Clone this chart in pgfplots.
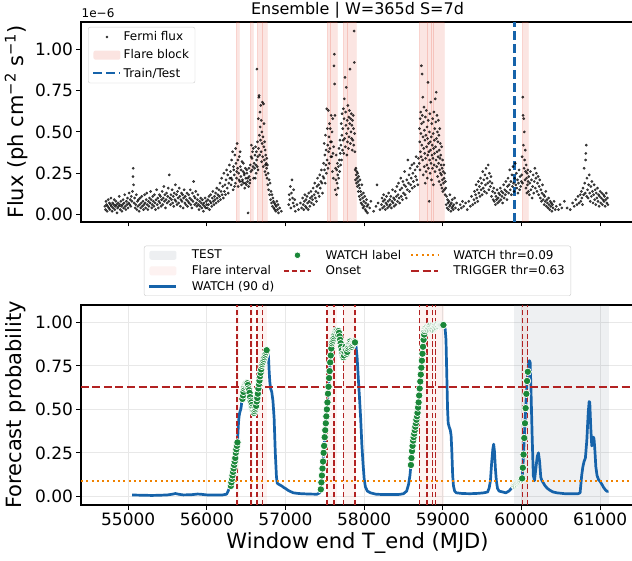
\documentclass[border=0pt]{standalone}
\usepackage{fontspec}
\setmainfont{DejaVu Sans}
\usepackage{pgfplots}
\pgfplotsset{compat=1.18}

\definecolor{wblue}{RGB}{22,99,170}
\definecolor{fb}{RGB}{178,34,34}
\definecolor{wgreen}{RGB}{26,135,56}
\definecolor{orng}{RGB}{240,130,0}
\definecolor{flarec}{RGB}{230,80,60}
\definecolor{testc}{RGB}{112,128,144}

\pgfplotsset{
  lline/.style={legend image code/.code={\draw[##1] (0pt,0pt) -- (27pt,0pt);}},
  larea/.style={legend image code/.code={\fill[##1, draw=none] (0pt,-4.5pt) rectangle (27pt,4.5pt);}},
  lmark/.style={legend image code/.code={\draw[##1] plot coordinates {(13.5pt,0pt)};}},
  flareblk/.style={forget plot, fill=flarec, fill opacity=0.15, draw=flarec, draw opacity=0.12, line width=0.4pt},
  flareint/.style={forget plot, fill=flarec, fill opacity=0.07, draw=none},
  onset/.style={forget plot, fb, line width=1.5pt, dash pattern=on 5.5pt off 2.4pt},
  common/.style={
    scale only axis, width=553pt, height=200pt,
    xmin=54400, xmax=61430,
    xtick={55000,56000,57000,58000,59000,60000,61000},
    ytick={0,0.25,0.5,0.75,1},
    tick align=outside, tick pos=left, major tick length=4.5pt,
    every tick/.style={black, line width=1pt},
    axis line style={line width=1.1pt},
    ticklabel style={font=\fontsize{17}{17}\selectfont},
    /pgf/number format/assume math mode=true,
    scaled ticks=false,
    xticklabel style={/pgf/number format/1000 sep={}},
    yticklabel style={/pgf/number format/fixed, /pgf/number format/fixed zerofill, /pgf/number format/precision=2},
    label style={font=\fontsize{21}{21}\selectfont},
    ylabel style={at={(axis description cs:-0.1175,0.5)}, anchor=center},
    legend cell align=left,
  },
}

\begin{document}
\begin{tikzpicture}
\path[use as bounding box] (0pt,0pt) rectangle (632pt,560pt);

% ---------------- top panel: flux ----------------
\begin{axis}[common, at={(81pt,338pt)}, anchor=south west,
  ymin=-0.045, ymax=1.165,
  xticklabel=\empty,
  ylabel={Flux (ph cm\textsuperscript{−2} s\textsuperscript{−1})},
  legend style={at={(axis description cs:0.0127,0.975)}, anchor=north west,
    draw=black!20, rounded corners=2pt, font=\fontsize{12}{14}\selectfont,
    inner xsep=4pt, inner ysep=2.5pt, row sep=3.5pt,
    /tikz/every even column/.append style={column sep=7pt}},
]
% flare blocks
\addplot[flareblk] coordinates {(56372,-0.045)(56372,1.165)(56405,1.165)(56405,-0.045)} -- cycle;
\addplot[flareblk] coordinates {(56553,-0.045)(56553,1.165)(56584,1.165)(56584,-0.045)} -- cycle;
\addplot[flareblk] coordinates {(56635,-0.045)(56635,1.165)(56700,1.165)(56700,-0.045)} -- cycle;
\addplot[flareblk] coordinates {(56700,-0.045)(56700,1.165)(56770,1.165)(56770,-0.045)} -- cycle;
\addplot[flareblk] coordinates {(57525,-0.045)(57525,1.165)(57565,1.165)(57565,-0.045)} -- cycle;
\addplot[flareblk] coordinates {(57565,-0.045)(57565,1.165)(57660,1.165)(57660,-0.045)} -- cycle;
\addplot[flareblk] coordinates {(57729,-0.045)(57729,1.165)(57785,1.165)(57785,-0.045)} -- cycle;
\addplot[flareblk] coordinates {(57785,-0.045)(57785,1.165)(57894,1.165)(57894,-0.045)} -- cycle;
\addplot[flareblk] coordinates {(58700,-0.045)(58700,1.165)(58798,1.165)(58798,-0.045)} -- cycle;
\addplot[flareblk] coordinates {(58798,-0.045)(58798,1.165)(58852,1.165)(58852,-0.045)} -- cycle;
\addplot[flareblk] coordinates {(58852,-0.045)(58852,1.165)(58882,1.165)(58882,-0.045)} -- cycle;
\addplot[flareblk] coordinates {(58882,-0.045)(58882,1.165)(59018,1.165)(59018,-0.045)} -- cycle;
\addplot[flareblk] coordinates {(60010,-0.045)(60010,1.165)(60087,1.165)(60087,-0.045)} -- cycle;

% Fermi flux (units of 1e-6)
\addplot[forget plot, only marks, mark=*, mark size=1.2pt, black, opacity=0.7] coordinates {
(54704,0.05)(54711,0.03)(54718,0.08)(54725,0.06)(54732,0.02)(54739,0.05)(54746,0.09)(54753,0.04)(54760,0.07)(54767,0.03)
(54774,0.06)(54781,0.10)(54788,0.05)(54795,0.02)(54802,0.07)(54809,0.04)(54816,0.06)(54823,0.09)(54830,0.03)(54837,0.05)
(54844,0.08)(54851,0.06)(54858,0.01)(54865,0.04)(54872,0.07)(54879,0.05)(54886,0.11)(54893,0.06)(54900,0.03)(54907,0.08)
(54914,0.05)(54921,0.02)(54928,0.06)(54935,0.09)(54942,0.04)(54949,0.07)(54956,0.12)(54963,0.05)(54970,0.03)(54977,0.08)
(54984,0.06)(54991,0.10)(54998,0.04)(55005,0.07)(55012,0.13)(55019,0.06)(55026,0.09)(55033,0.05)(55040,0.11)(55047,0.08)
(55054,0.14)(55061,0.23)(55064,0.28)(55068,0.18)(55075,0.07)(55082,0.10)(55089,0.04)(55096,0.06)(55103,0.12)(55110,0.03)
(55117,0.08)(55124,0.05)(55131,0.09)(55138,0.02)(55145,0.06)(55152,0.10)(55159,0.04)(55166,0.07)(55173,0.11)(55180,0.05)
(55187,0.08)(55194,0.03)(55201,0.06)(55208,0.12)(55215,0.07)(55222,0.04)(55229,0.09)(55236,0.13)(55243,0.06)(55250,0.03)
(55257,0.08)(55264,0.05)(55271,0.10)(55278,0.07)(55285,0.14)(55292,0.09)(55299,0.04)(55306,0.06)(55313,0.11)(55320,0.08)
(55327,0.05)(55334,0.12)(55341,0.07)(55348,0.03)(55355,0.09)(55362,0.15)(55369,0.06)(55376,0.10)(55383,0.04)(55390,0.08)
(55397,0.12)(55404,0.07)(55411,0.11)(55418,0.05)(55425,0.09)(55432,0.14)(55439,0.06)(55446,0.10)(55453,0.17)(55460,0.08)
(55467,0.12)(55474,0.04)(55481,0.09)(55488,0.13)(55495,0.07)(55502,0.11)(55509,0.16)(55516,0.08)(55523,0.24)(55530,0.10)
(55537,0.06)(55544,0.12)(55551,0.09)(55558,0.15)(55565,0.07)(55572,0.11)(55579,0.05)(55586,0.13)(55593,0.09)(55600,0.18)
(55607,0.08)(55614,0.12)(55621,0.06)(55628,0.14)(55635,0.10)(55642,0.07)(55649,0.16)(55656,0.11)(55663,0.05)(55670,0.09)
(55677,0.13)(55684,0.08)(55691,0.12)(55698,0.04)(55705,0.10)(55712,0.15)(55719,0.07)(55726,0.11)(55733,0.06)(55740,0.09)
(55747,0.13)(55754,0.05)(55761,0.08)(55768,0.12)(55775,0.07)(55782,0.10)(55789,0.15)(55796,0.06)(55803,0.09)(55810,0.04)
(55817,0.13)(55824,0.08)(55831,0.20)(55838,0.11)(55845,0.06)(55852,0.10)(55859,0.14)(55866,0.07)(55873,0.05)(55880,0.09)
(55887,0.12)(55894,0.06)(55901,0.03)(55908,0.08)(55915,0.05)(55922,0.10)(55929,0.07)(55936,0.04)(55943,0.09)(55950,0.06)
(55957,0.02)(55964,0.07)(55971,0.05)(55978,0.10)(55985,0.04)(55992,0.08)(55999,0.06)(56006,0.04)(56013,0.09)(56020,0.06)
(56027,0.11)(56034,0.03)(56041,0.08)(56048,0.12)(56055,0.07)(56062,0.05)(56069,0.10)(56076,0.14)(56083,0.08)(56090,0.06)
(56097,0.11)(56104,0.09)(56111,0.13)(56118,0.07)(56125,0.16)(56132,0.10)(56139,0.12)(56146,0.08)(56153,0.15)(56160,0.11)
(56167,0.19)(56174,0.09)(56181,0.14)(56188,0.22)(56195,0.12)(56202,0.17)(56209,0.10)(56216,0.25)(56223,0.14)(56230,0.18)
(56237,0.12)(56244,0.21)(56251,0.27)(56258,0.16)(56265,0.24)(56272,0.13)(56279,0.19)(56286,0.30)(56293,0.22)
(56300,0.26)(56307,0.18)(56314,0.33)(56321,0.21)(56328,0.38)(56335,0.15)(56342,0.27)(56349,0.24)(56356,0.36)(56363,0.19)
(56370,0.31)(56377,0.22)(56384,0.43)(56391,0.28)(56398,0.17)(56405,0.25)(56412,0.35)(56419,0.20)(56426,0.29)(56433,0.23)
(56440,0.18)(56447,0.32)(56454,0.21)(56461,0.26)(56468,0.19)(56475,0.24)(56482,0.16)(56489,0.28)(56496,0.22)(56503,0.18)
(56510,0.25)(56517,0.20)(56524,0.01)(56531,0.17)(56538,0.23)(56545,0.19)(56552,0.30)(56559,0.26)(56566,0.42)(56573,0.34)
(56580,0.38)(56587,0.29)(56594,0.22)(56601,0.31)(56310,0.22)(56338,0.29)(56352,0.17)(56366,0.40)(56380,0.26)(56394,0.33)
(56408,0.21)(56422,0.38)(56436,0.27)(56450,0.20)(56464,0.31)(56478,0.25)(56492,0.19)(56506,0.27)(56520,0.22)(56534,0.28)
(56548,0.21)(56562,0.35)(56576,0.27)(56590,0.40)
(56608,0.28)(56612,0.36)(56615,0.22)(56619,0.41)(56622,0.30)(56626,0.25)(56629,0.38)(56633,0.33)(56636,0.88)(56640,0.29)
(56643,0.44)(56647,0.35)(56650,0.27)(56654,0.58)(56657,0.40)(56661,0.71)(56664,0.72)(56668,0.48)(56671,0.36)(56675,0.62)
(56678,0.53)(56682,0.45)(56685,0.66)(56689,0.38)(56692,0.57)(56696,0.32)(56699,0.50)(56703,0.43)(56706,0.68)(56710,0.35)
(56713,0.47)(56717,0.29)(56720,0.67)(56724,0.41)(56727,0.55)(56731,0.33)(56734,0.44)(56738,0.26)(56741,0.39)(56745,0.30)
(56748,0.36)(56752,0.24)(56755,0.31)(56759,0.28)(56762,0.34)(56766,0.22)(56770,0.30)(56775,0.18)(56780,0.25)(56786,0.15)
(56792,0.21)(56798,0.12)(56804,0.19)(56810,0.09)(56816,0.14)(56822,0.07)(56828,0.12)(56834,0.05)(56840,0.10)(56846,0.08)
(56852,0.04)(56858,0.07)(56864,0.03)(56870,0.06)(56876,0.02)(56882,0.05)
(56890,0.08)(56897,0.03)(56904,0.06)(56911,0.01)(56925,0.04)(56946,0.02)(57040,0.06)(57047,0.12)(57054,0.09)(57061,0.17)
(57068,0.04)(57075,0.13)(57082,0.21)(57089,0.10)(57096,0.07)(57103,0.15)(57110,0.05)(57117,0.09)(57124,0.02)(57145,0.06)
(57166,0.03)(57190,0.07)(57204,0.04)(57218,0.10)(57225,0.06)(57232,0.03)(57239,0.08)(57246,0.12)(57253,0.05)(57260,0.09)
(57267,0.04)(57274,0.11)(57281,0.07)(57288,0.03)(57295,0.13)(57302,0.08)(57309,0.05)(57316,0.10)(57323,0.14)(57330,0.07)
(57337,0.11)(57344,0.09)(57351,0.16)(57358,0.06)(57365,0.12)(57372,0.19)(57379,0.10)(57386,0.14)(57393,0.08)(57400,0.17)
(57407,0.22)(57414,0.13)(57421,0.18)(57428,0.11)(57435,0.24)(57442,0.16)(57449,0.20)(57456,0.27)(57463,0.19)(57470,0.13)
(57477,0.23)
(57484,0.31)(57488,0.22)(57492,0.43)(57496,0.27)(57500,0.36)(57504,0.19)(57508,0.48)(57512,0.30)(57516,0.39)(57520,0.25)
(57524,0.64)(57528,0.33)(57532,0.52)(57536,0.42)(57540,0.28)(57544,0.63)(57548,0.38)(57552,0.47)(57556,0.31)(57560,0.55)
(57564,0.40)(57568,0.52)(57572,0.44)(57576,0.35)(57580,0.60)(57584,0.44)(57588,0.35)(57592,0.50)(57596,0.26)(57600,0.58)
(57604,0.37)(57608,0.22)(57612,0.41)(57616,0.90)(57620,0.97)(57624,0.79)(57628,0.60)(57632,0.15)(57636,0.28)(57640,0.21)
(57644,0.36)(57648,0.12)(57652,0.27)(57656,0.19)(57660,0.31)(57664,0.24)(57668,0.16)(57672,0.29)(57676,0.22)(57680,0.40)
(57684,0.33)(57688,0.26)(57692,0.45)(57696,0.37)(57700,0.30)
(57704,0.42)(57708,0.55)(57712,0.33)(57716,0.48)(57720,0.61)(57724,0.39)(57728,0.52)(57732,0.45)(57736,0.64)(57740,0.37)
(57744,0.58)(57748,0.70)(57752,0.46)(57756,0.83)(57760,0.41)(57764,0.62)(57768,0.54)(57772,0.77)(57776,0.49)(57780,0.36)
(57784,0.57)(57788,0.44)(57792,0.66)(57796,0.52)(57800,0.40)(57804,0.59)(57808,0.47)(57812,0.63)(57816,0.55)(57820,0.88)
(57824,0.43)(57828,0.58)(57832,0.50)(57836,0.61)(57840,0.46)(57844,0.54)(57848,0.39)(57852,0.57)(57856,0.45)(57860,0.60)
(57864,0.52)(57868,0.42)(57872,1.11)(57874,0.92)(57878,0.49)(57882,0.38)(57886,0.27)(57890,0.21)(57894,0.28)(57898,0.24)
(57902,0.19)(57906,0.26)(57910,0.22)(57914,0.17)(57918,0.25)(57922,0.20)(57926,0.14)(57930,0.23)(57934,0.18)(57938,0.11)
(57942,0.16)(57946,0.21)(57950,0.09)(57955,0.14)(57960,0.07)(57965,0.12)(57970,0.18)(57975,0.06)(57980,0.10)(57985,0.04)
(57990,0.13)(57995,0.08)(58000,0.05)(58006,0.11)(58012,0.03)(58018,0.07)(58024,0.02)(58030,0.09)(58036,0.05)(58042,0.01)
(58048,0.06)
(58070,0.04)(58085,0.08)(58120,0.02)(58150,0.05)(58163,0.18)(58178,0.07)(58200,0.03)(58220,0.06)(58227,0.10)(58234,0.04)
(58241,0.08)(58248,0.12)(58255,0.05)(58262,0.09)(58269,0.03)(58276,0.07)(58283,0.11)(58290,0.06)(58297,0.04)(58304,0.08)
(58311,0.13)(58318,0.05)(58325,0.09)(58332,0.06)(58339,0.11)(58346,0.04)(58353,0.08)(58360,0.15)(58367,0.07)(58374,0.10)
(58381,0.05)(58388,0.09)(58395,0.14)(58402,0.06)(58409,0.11)(58416,0.17)(58423,0.08)(58430,0.12)(58437,0.19)(58444,0.10)
(58451,0.07)(58458,0.15)(58465,0.22)(58472,0.11)(58479,0.16)(58486,0.09)(58493,0.20)(58500,0.13)(58507,0.18)(58514,0.26)
(58521,0.12)(58528,0.17)(58535,0.10)(58542,0.21)(58549,0.15)(58556,0.33)(58563,0.19)(58570,0.24)(58577,0.14)(58584,0.28)
(58591,0.18)(58598,0.22)(58605,0.30)(58612,0.16)(58619,0.25)(58626,0.20)(58633,0.31)(58640,0.17)(58647,0.27)(58654,0.23)
(58661,0.35)(58668,0.21)(58675,0.29)(58682,0.18)(58689,0.34)
(58700,0.31)(58703,0.52)(58706,0.44)(58709,0.27)(58712,0.58)(58715,0.38)(58718,0.62)(58721,0.49)(58724,0.35)(58727,0.90)
(58730,0.55)(58733,0.42)(58736,0.85)(58739,0.60)(58742,0.33)(58745,0.71)(58748,0.47)(58751,0.24)(58754,0.56)(58757,0.40)
(58760,0.65)(58763,0.29)(58766,0.51)(58769,0.37)(58772,0.45)(58775,0.19)(58778,0.59)(58781,0.34)(58784,0.48)(58787,0.26)
(58790,0.63)(58793,0.41)(58796,0.30)(58799,0.53)(58802,0.22)(58805,0.46)(58808,0.36)(58811,0.80)(58814,0.57)(58817,0.28)
(58820,0.43)(58823,0.38)(58826,0.08)(58829,0.50)(58832,0.33)(58835,0.61)(58838,0.25)(58841,0.44)(58844,0.39)(58847,0.68)
(58850,0.31)(58853,0.47)(58856,0.21)(58859,0.55)(58862,0.36)(58865,0.42)(58868,0.28)(58871,0.58)(58874,0.34)(58877,0.49)
(58880,0.18)(58883,0.40)(58886,0.62)(58889,0.30)(58892,0.45)(58895,0.37)(58898,0.52)(58901,0.26)(58904,0.70)(58907,0.41)
(58910,0.56)(58913,0.33)(58916,0.74)(58919,0.46)(58922,0.29)(58925,0.60)(58928,0.38)(58931,0.50)(58934,0.23)(58937,0.44)
(58940,0.35)(58943,0.57)(58946,0.31)(58949,0.48)(58952,0.20)(58955,0.39)(58958,0.27)(58961,0.52)(58964,0.34)(58967,0.43)
(58970,0.25)(58973,0.36)(58976,0.18)(58979,0.30)(58982,0.24)(58985,0.41)(58988,0.16)(58991,0.28)(58994,0.21)(58997,0.33)
(59000,0.14)(59004,0.26)(59008,0.19)(59012,0.30)(59016,0.22)(59020,0.15)(59024,0.25)(59028,0.12)(59032,0.20)(59036,0.16)
(59042,0.06)(59048,0.11)(59054,0.04)(59060,0.09)(59066,0.07)(59072,0.03)(59078,0.08)(59084,0.05)(59090,0.12)(59096,0.06)
(59102,0.02)(59108,0.07)(59114,0.04)(59120,0.09)(59126,0.05)(59132,0.03)(59140,0.06)(59150,0.10)(59160,0.04)(59175,0.07)
(59200,0.03)(59220,0.06)(59235,0.04)(59250,0.08)(59265,0.05)(59290,0.07)(59310,0.03)(59330,0.08)(59350,0.05)(59365,0.11)
(59380,0.06)(59395,0.09)
(59402,0.14)(59409,0.07)(59416,0.12)(59423,0.18)(59430,0.10)(59437,0.15)(59444,0.08)(59451,0.20)(59458,0.13)(59465,0.17)
(59472,0.11)(59479,0.22)(59486,0.15)(59493,0.19)(59500,0.12)(59507,0.26)(59514,0.16)(59521,0.21)(59528,0.14)(59535,0.24)
(59542,0.18)(59549,0.28)(59556,0.13)(59563,0.22)(59570,0.19)(59577,0.30)(59584,0.15)(59591,0.25)(59598,0.20)(59605,0.17)
(59612,0.23)(59619,0.11)(59626,0.19)(59633,0.14)(59640,0.09)(59647,0.16)(59654,0.08)(59661,0.13)(59668,0.06)(59675,0.11)
(59682,0.09)(59689,0.15)(59696,0.07)
(59703,0.10)(59710,0.13)(59717,0.08)(59724,0.12)(59731,0.16)(59738,0.09)(59745,0.14)(59752,0.11)(59759,0.07)(59766,0.13)
(59773,0.18)(59780,0.10)(59787,0.15)(59794,0.12)(59801,0.20)(59808,0.14)(59815,0.09)(59822,0.17)(59829,0.22)(59836,0.13)
(59843,0.18)(59850,0.27)(59857,0.15)(59864,0.20)(59871,0.12)(59878,0.24)(59885,0.17)(59892,0.29)(59899,0.19)(59906,0.14)
(59913,0.22)(59920,0.31)(59927,0.18)(59934,0.25)(59941,0.16)(59948,0.21)(59955,0.13)(59962,0.19)(59969,0.27)(59976,0.15)
(59983,0.23)(59990,0.17)(59997,0.20)
(60004,0.24)(60008,0.35)(60012,0.19)(60016,0.71)(60020,0.60)(60024,0.42)(60028,0.58)(60032,0.28)(60036,0.50)(60040,0.33)
(60044,0.21)(60048,0.39)(60052,0.26)(60056,0.16)(60060,0.30)(60064,0.22)(60068,0.13)(60072,0.25)(60076,0.18)(60080,0.27)
(60084,0.20)(60088,0.14)
(60092,0.23)(60099,0.12)(60106,0.19)(60113,0.26)(60120,0.15)(60127,0.21)(60134,0.10)(60141,0.17)(60148,0.24)(60155,0.13)
(60162,0.20)(60169,0.28)(60176,0.16)(60183,0.22)(60190,0.25)(60197,0.14)(60204,0.19)(60211,0.23)(60218,0.12)(60225,0.17)
(60232,0.21)(60239,0.10)(60246,0.15)(60253,0.08)(60260,0.13)(60267,0.18)(60274,0.09)(60281,0.12)(60288,0.06)(60295,0.11)
(60302,0.08)(60309,0.14)(60316,0.05)(60323,0.09)(60330,0.07)(60337,0.04)(60344,0.10)(60351,0.06)(60358,0.03)(60365,0.08)
(60372,0.05)(60379,0.07)(60386,0.02)(60393,0.06)(60400,0.04)(60414,0.08)(60428,0.03)(60442,0.05)
(60470,0.03)(60490,0.06)(60512,0.04)(60545,0.08)(60580,0.04)(60620,0.03)(60650,0.07)(60670,0.05)(60690,0.09)(60705,0.06)
(60719,0.11)(60733,0.07)(60747,0.12)
(60754,0.08)(60761,0.14)(60768,0.10)(60775,0.06)(60782,0.16)(60789,0.12)(60796,0.28)(60803,0.19)(60810,0.13)(60815,0.33)
(60818,0.37)(60824,0.42)(60828,0.11)(60832,0.22)(60839,0.15)(60846,0.10)(60853,0.18)(60860,0.24)(60867,0.13)(60874,0.08)
(60881,0.17)(60888,0.11)(60895,0.20)(60902,0.14)(60909,0.07)(60916,0.12)(60923,0.18)(60930,0.09)(60937,0.15)(60944,0.06)
(60951,0.13)(60958,0.10)(60965,0.16)(60972,0.08)(60979,0.12)(60986,0.05)(60993,0.11)(61000,0.14)(61007,0.07)(61014,0.10)
(61021,0.13)(61028,0.06)(61035,0.09)(61042,0.12)(61049,0.08)(61056,0.11)(61063,0.05)(61070,0.09)(61077,0.13)(61084,0.07)
(61091,0.10)(61098,0.06)
};
% train/test split
\addplot[forget plot, wblue, line width=2.5pt, dash pattern=on 9pt off 4pt] coordinates {(59910,-0.045)(59910,1.165)};

\addlegendimage{lmark, only marks, mark=*, mark size=1pt, black!80}
\addlegendentry{Fermi flux}
\addlegendimage{larea, fill=flarec, fill opacity=0.15}
\addlegendentry{Flare block}
\addlegendimage{lline, wblue, line width=2.5pt, dash pattern=on 9pt off 4pt}
\addlegendentry{Train/Test}
\end{axis}

% title and offset text of the top panel
\node[anchor=base, inner sep=0pt, font=\fontsize{16}{16}\selectfont] at (357.5pt,545pt) {Ensemble | W=365d S=7d};
\node[anchor=base west, inner sep=0pt, font=\fontsize{12}{12}\selectfont] at (81.5pt,542pt) {1e−6};

% ---------------- bottom panel: forecast ----------------
\begin{axis}[common, at={(81pt,55pt)}, anchor=south west,
  ymin=-0.05, ymax=1.1,
  grid=major, major grid style={black!9, line width=0.8pt},
  xlabel={Window end T\_end (MJD)},
  xlabel style={at={(axis description cs:0.5,0)}, anchor=base, yshift=-43.3pt},
  ylabel={Forecast probability},
  legend columns=3,
  legend style={at={(axis description cs:0.5,1.045)}, anchor=south,
    draw=black!20, rounded corners=2pt, font=\fontsize{12}{14}\selectfont,
    inner xsep=4pt, inner ysep=2pt, row sep=1pt,
    /tikz/every even column/.append style={column sep=7pt},
    /tikz/every odd column/.append style={column sep=12pt}},
]
% test period
\addplot[forget plot, fill=testc, fill opacity=0.12, draw=none] coordinates {(59910,-0.05)(59910,1.1)(61110,1.1)(61110,-0.05)} -- cycle;
% flare intervals
\addplot[flareint] coordinates {(56372,-0.05)(56372,1.1)(56405,1.1)(56405,-0.05)} -- cycle;
\addplot[flareint] coordinates {(56553,-0.05)(56553,1.1)(56584,1.1)(56584,-0.05)} -- cycle;
\addplot[flareint] coordinates {(56635,-0.05)(56635,1.1)(56770,1.1)(56770,-0.05)} -- cycle;
\addplot[flareint] coordinates {(57525,-0.05)(57525,1.1)(57660,1.1)(57660,-0.05)} -- cycle;
\addplot[flareint] coordinates {(57729,-0.05)(57729,1.1)(57894,1.1)(57894,-0.05)} -- cycle;
\addplot[flareint] coordinates {(58700,-0.05)(58700,1.1)(59018,1.1)(59018,-0.05)} -- cycle;
\addplot[flareint] coordinates {(60010,-0.05)(60010,1.1)(60087,1.1)(60087,-0.05)} -- cycle;

% WATCH probability (90 d)
\addplot[forget plot, wblue, line width=2.7pt, line join=round] coordinates {
(55050,0.008)(55100,0.007)(55200,0.006)(55300,0.005)(55400,0.006)(55500,0.008)(55560,0.012)(55600,0.016)(55640,0.012)
(55700,0.008)(55800,0.009)(55880,0.013)(55920,0.012)(56000,0.008)(56100,0.007)(56200,0.008)(56250,0.012)(56270,0.030)
(56290,0.05)
(56305,0.06)(56312,0.08)(56319,0.10)(56326,0.12)(56333,0.14)(56340,0.16)(56347,0.18)(56354,0.20)(56361,0.22)(56368,0.25)
(56375,0.27)(56382,0.29)(56389,0.31)
(56396,0.37)(56403,0.43)(56410,0.46)(56417,0.48)(56424,0.49)(56431,0.50)(56438,0.52)(56445,0.55)
(56452,0.56)(56459,0.58)(56466,0.60)(56473,0.62)(56480,0.63)(56487,0.64)(56494,0.645)(56501,0.65)(56508,0.65)(56515,0.65)
(56522,0.64)(56529,0.62)(56536,0.61)(56543,0.595)(56550,0.57)(56557,0.55)(56564,0.54)(56571,0.525)(56578,0.51)(56585,0.50)
(56592,0.49)(56599,0.48)(56606,0.49)(56613,0.50)(56620,0.51)(56627,0.52)(56634,0.545)(56641,0.565)(56648,0.59)(56655,0.62)
(56662,0.645)(56669,0.665)(56676,0.69)(56683,0.71)(56690,0.73)(56697,0.75)(56704,0.76)(56711,0.77)(56718,0.78)(56725,0.79)
(56732,0.80)(56739,0.81)(56746,0.82)(56753,0.83)(56760,0.84)
(56768,0.835)(56776,0.83)(56784,0.80)(56792,0.72)(56800,0.66)(56810,0.62)(56825,0.60)(56840,0.55)(56855,0.45)(56870,0.25)
(56885,0.11)(56895,0.075)(56910,0.07)(56930,0.065)(56950,0.06)(56980,0.05)(57000,0.045)(57030,0.035)(57060,0.028)(57100,0.02)
(57150,0.017)(57200,0.015)(57300,0.013)(57400,0.012)(57435,0.02)
(57449,0.04)(57456,0.08)(57463,0.12)(57470,0.16)(57477,0.20)(57484,0.25)(57491,0.29)(57498,0.34)(57505,0.38)(57512,0.42)
(57519,0.46)(57526,0.50)(57533,0.54)(57540,0.59)(57547,0.63)(57554,0.68)(57561,0.72)(57568,0.77)(57575,0.81)(57582,0.85)
(57589,0.88)(57596,0.89)(57603,0.90)(57610,0.91)(57617,0.92)(57624,0.93)(57631,0.94)(57638,0.95)(57645,0.955)(57652,0.95)
(57659,0.94)(57666,0.93)(57673,0.95)(57680,0.94)(57687,0.92)(57694,0.90)(57701,0.88)(57708,0.86)(57715,0.84)(57722,0.82)
(57729,0.81)(57736,0.80)(57743,0.81)(57750,0.83)(57757,0.85)(57764,0.86)(57771,0.84)(57778,0.82)(57785,0.83)(57792,0.85)
(57799,0.86)(57806,0.87)(57813,0.88)(57820,0.89)(57827,0.88)(57834,0.87)(57841,0.86)(57848,0.87)(57855,0.88)(57862,0.89)
(57869,0.89)(57876,0.885)(57883,0.885)
(57895,0.87)(57910,0.80)(57925,0.68)(57940,0.57)(57955,0.45)(57970,0.30)(57985,0.19)(58000,0.10)(58015,0.055)(58040,0.03)
(58080,0.02)(58150,0.012)(58250,0.01)(58350,0.01)(58450,0.011)(58500,0.015)(58540,0.03)(58565,0.07)(58582,0.12)
(58594,0.18)(58601,0.22)(58608,0.26)(58615,0.29)(58622,0.32)(58629,0.34)(58636,0.36)(58643,0.38)(58650,0.40)(58657,0.42)
(58664,0.44)(58671,0.46)(58678,0.48)(58685,0.51)(58692,0.54)(58699,0.58)(58706,0.62)(58713,0.66)(58720,0.70)(58727,0.74)
(58734,0.78)(58741,0.82)(58748,0.86)(58755,0.90)(58762,0.93)(58769,0.95)(58776,0.96)(58783,0.965)(58790,0.97)(58797,0.965)
(58804,0.96)(58811,0.965)(58818,0.97)(58825,0.975)(58832,0.98)(58839,0.98)(58846,0.975)(58853,0.97)(58860,0.965)(58867,0.96)
(58874,0.965)(58881,0.97)(58888,0.975)(58895,0.98)(58902,0.98)(58909,0.975)(58916,0.98)(58923,0.985)(58930,0.985)(58937,0.98)
(58944,0.98)(58951,0.985)(58958,0.985)(58965,0.985)(58972,0.985)(58979,0.985)(58986,0.985)(58993,0.985)(59000,0.985)(59007,0.985)
(59020,0.98)(59030,0.96)(59040,0.90)(59050,0.70)(59060,0.50)(59068,0.42)(59080,0.40)(59095,0.38)(59105,0.35)(59115,0.25)
(59125,0.12)(59135,0.06)(59150,0.03)(59170,0.02)(59250,0.016)(59350,0.015)(59450,0.017)(59520,0.02)(59570,0.025)(59590,0.05)
(59605,0.09)(59620,0.19)(59635,0.27)(59646,0.30)(59656,0.26)(59668,0.16)(59680,0.09)(59695,0.045)(59715,0.03)(59760,0.025)
(59800,0.02)(59840,0.03)(59870,0.045)(59900,0.06)
(59910,0.062)(59917,0.066)(59924,0.07)(59931,0.074)(59938,0.078)(59945,0.08)(59952,0.082)(59959,0.085)(59966,0.087)(59973,0.089)
(59980,0.09)(59987,0.093)(59994,0.095)(60001,0.098)(60008,0.103)(60017,0.164)(60026,0.24)(60035,0.335)(60044,0.42)(60053,0.507)
(60062,0.589)(60071,0.663)(60080,0.716)
(60090,0.76)(60100,0.78)(60110,0.77)(60120,0.62)(60135,0.35)(60150,0.12)(60165,0.09)(60180,0.15)(60200,0.23)(60215,0.25)
(60230,0.20)(60245,0.11)(60260,0.09)(60280,0.075)(60300,0.06)(60330,0.045)(60360,0.035)(60400,0.025)(60450,0.02)(60550,0.015)
(60650,0.015)(60720,0.015)(60745,0.02)(60765,0.12)(60780,0.17)(60795,0.20)(60812,0.22)(60830,0.32)(60848,0.48)(60860,0.545)
(60868,0.54)(60880,0.40)(60893,0.29)(60905,0.30)(60915,0.34)(60922,0.33)(60932,0.27)(60945,0.17)(60960,0.12)(60980,0.095)
(61000,0.085)(61020,0.07)(61045,0.05)(61070,0.035)(61090,0.028)(61105,0.03)
};

% onsets
\addplot[onset] coordinates {(56380,-0.05)(56380,1.1)};
\addplot[onset] coordinates {(56562,-0.05)(56562,1.1)};
\addplot[onset] coordinates {(56635,-0.05)(56635,1.1)};
\addplot[onset] coordinates {(56708,-0.05)(56708,1.1)};
\addplot[onset] coordinates {(57525,-0.05)(57525,1.1)};
\addplot[onset] coordinates {(57614,-0.05)(57614,1.1)};
\addplot[onset] coordinates {(57737,-0.05)(57737,1.1)};
\addplot[onset] coordinates {(57882,-0.05)(57882,1.1)};
\addplot[onset] coordinates {(58704,-0.05)(58704,1.1)};
\addplot[onset] coordinates {(58798,-0.05)(58798,1.1)};
\addplot[onset] coordinates {(58869,-0.05)(58869,1.1)};
\addplot[onset] coordinates {(58905,-0.05)(58905,1.1)};
\addplot[onset] coordinates {(60012,-0.05)(60012,1.1)};
\addplot[onset] coordinates {(60073,-0.05)(60073,1.1)};

% thresholds
\addplot[forget plot, orng, line width=2pt, dash pattern=on 2pt off 3.3pt] coordinates {(54400,0.09)(61430,0.09)};
\addplot[forget plot, fb, line width=2.2pt, dash pattern=on 8pt off 3.5pt] coordinates {(54400,0.63)(61430,0.63)};

% WATCH label markers
\addplot[forget plot, only marks, mark=*, mark size=3.7pt, mark options={fill=wgreen, draw=white, line width=0.7pt}] coordinates {
(56305,0.06)(56312,0.08)(56319,0.10)(56326,0.12)(56333,0.14)(56340,0.16)(56347,0.18)(56354,0.20)(56361,0.22)(56368,0.25)
(56375,0.27)(56382,0.29)(56389,0.31)
(56452,0.56)(56459,0.58)(56466,0.60)(56473,0.62)(56480,0.63)(56487,0.64)(56494,0.645)(56501,0.65)(56508,0.65)(56515,0.65)
(56522,0.64)(56529,0.62)(56536,0.61)(56543,0.595)(56550,0.57)(56557,0.55)(56564,0.54)(56571,0.525)(56578,0.51)(56585,0.50)
(56592,0.49)(56599,0.48)(56606,0.49)(56613,0.50)(56620,0.51)(56627,0.52)(56634,0.545)(56641,0.565)(56648,0.59)(56655,0.62)
(56662,0.645)(56669,0.665)(56676,0.69)(56683,0.71)(56690,0.73)(56697,0.75)(56704,0.76)(56711,0.77)(56718,0.78)(56725,0.79)
(56732,0.80)(56739,0.81)(56746,0.82)(56753,0.83)(56760,0.84)
(57449,0.04)(57456,0.08)(57463,0.12)(57470,0.16)(57477,0.20)(57484,0.25)(57491,0.29)(57498,0.34)(57505,0.38)(57512,0.42)
(57519,0.46)(57526,0.50)(57533,0.54)(57540,0.59)(57547,0.63)(57554,0.68)(57561,0.72)(57568,0.77)(57575,0.81)(57582,0.85)
(57589,0.88)(57596,0.89)(57603,0.90)(57610,0.91)(57617,0.92)(57624,0.93)(57631,0.94)(57638,0.95)(57645,0.955)(57652,0.95)
(57659,0.94)(57666,0.93)(57673,0.95)(57680,0.94)(57687,0.92)(57694,0.90)(57701,0.88)(57708,0.86)(57715,0.84)(57722,0.82)
(57729,0.81)(57736,0.80)(57743,0.81)(57750,0.83)(57757,0.85)(57764,0.86)(57771,0.84)(57778,0.82)(57785,0.83)(57792,0.85)
(57799,0.86)(57806,0.87)(57813,0.88)(57820,0.89)(57827,0.88)(57834,0.87)(57841,0.86)(57848,0.87)(57855,0.88)(57862,0.89)
(57869,0.89)(57876,0.885)(57883,0.885)
(58594,0.18)(58601,0.22)(58608,0.26)(58615,0.29)(58622,0.32)(58629,0.34)(58636,0.36)(58643,0.38)(58650,0.40)(58657,0.42)
(58664,0.44)(58671,0.46)(58678,0.48)(58685,0.51)(58692,0.54)(58699,0.58)(58706,0.62)(58713,0.66)(58720,0.70)(58727,0.74)
(58734,0.78)(58741,0.82)(58748,0.86)(58755,0.90)(58762,0.93)(58769,0.95)(58776,0.96)(58783,0.965)(58790,0.97)(58797,0.965)
(58804,0.96)(58811,0.965)(58818,0.97)(58825,0.975)(58832,0.98)(58839,0.98)(58846,0.975)(58853,0.97)(58860,0.965)(58867,0.96)
(58874,0.965)(58881,0.97)(58888,0.975)(58895,0.98)(58902,0.98)(58909,0.975)(58916,0.98)(58923,0.985)(58930,0.985)(58937,0.98)
(58944,0.98)(58951,0.985)(58958,0.985)(58965,0.985)(58972,0.985)(58979,0.985)(58986,0.985)(58993,0.985)(59000,0.985)(59007,0.985)
(59910,0.062)(59917,0.066)(59924,0.07)(59931,0.074)(59938,0.078)(59945,0.08)(59952,0.082)(59959,0.085)(59966,0.087)(59973,0.089)
(59980,0.09)(59987,0.093)(59994,0.095)(60001,0.098)(60008,0.103)(60017,0.164)(60026,0.24)(60035,0.335)(60044,0.42)(60053,0.507)
(60062,0.589)(60071,0.663)(60080,0.716)
};

% legend (matplotlib fills columns first; listed here row by row)
\addlegendimage{larea, fill=testc, fill opacity=0.12}
\addlegendentry{TEST}
\addlegendimage{lmark, only marks, mark=*, mark size=3.3pt, mark options={fill=wgreen, draw=white, line width=0.7pt}}
\addlegendentry{WATCH label}
\addlegendimage{lline, orng, line width=2pt, dash pattern=on 2pt off 3.3pt}
\addlegendentry{WATCH thr=0.09}
\addlegendimage{larea, fill=flarec, fill opacity=0.07}
\addlegendentry{Flare interval}
\addlegendimage{lline, fb, line width=1.5pt, dash pattern=on 5.5pt off 2.4pt}
\addlegendentry{Onset}
\addlegendimage{lline, fb, line width=2.2pt, dash pattern=on 8pt off 3.5pt}
\addlegendentry{TRIGGER thr=0.63}
\addlegendimage{lline, wblue, line width=2.7pt}
\addlegendentry{WATCH (90 d)}
\end{axis}
\end{tikzpicture}
\end{document}
